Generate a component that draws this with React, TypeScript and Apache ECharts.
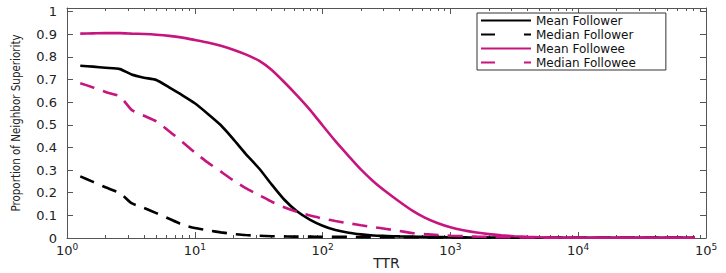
import React, { useEffect, useRef } from "react";
import * as echarts from "echarts";

// ---- data ----
const ttr = [
  1.27, 1.6, 2, 2.6, 3.2, 4, 5, 6.3, 8, 10, 12.6, 16, 20, 25, 32, 40, 50, 63, 80,
  100, 126, 160, 200, 250, 316, 400, 500, 630, 800, 1000, 1260, 1600, 2000, 2500,
  3160, 4000, 5000, 6300, 10000, 20000, 40000, 82000,
];

const meanFollower = [
  0.761, 0.757, 0.752, 0.746, 0.722, 0.708, 0.698, 0.665, 0.63, 0.595, 0.549,
  0.498, 0.437, 0.372, 0.306, 0.236, 0.17, 0.118, 0.08, 0.054, 0.035, 0.023,
  0.016, 0.011, 0.009, 0.007, 0.006, 0.005, 0.004, 0.003, 0.003, 0.002, 0.002,
  0.002, 0.001, 0.001, 0.001, 0.001, 0.001, 0.001, 0.001, 0.001,
];

const medianFollower = [
  0.272, 0.248, 0.224, 0.198, 0.154, 0.133, 0.11, 0.085, 0.059, 0.044, 0.034,
  0.025, 0.018, 0.013, 0.01, 0.008, 0.007, 0.006, 0.006, 0.005, 0.005, 0.005,
  0.004, 0.004, 0.004, 0.003, 0.003, 0.003, 0.002, 0.002, 0.002, 0.002, 0.001,
  0.001, 0.001, 0.001, 0.001, 0.001, 0.001, 0.001, 0.001, 0.001,
];

const meanFollowee = [
  0.903, 0.904, 0.905, 0.905, 0.903, 0.901, 0.898, 0.893, 0.885, 0.875, 0.864,
  0.849, 0.832, 0.811, 0.782, 0.742, 0.689, 0.63, 0.565, 0.497, 0.428, 0.362,
  0.302, 0.25, 0.203, 0.16, 0.122, 0.09, 0.065, 0.047, 0.034, 0.024, 0.017,
  0.012, 0.008, 0.005, 0.003, 0.002, 0.001, 0.001, 0.001, 0.001,
];

const medianFollowee = [
  0.684, 0.665, 0.645, 0.625, 0.566, 0.54, 0.515, 0.472, 0.424, 0.378, 0.334,
  0.293, 0.255, 0.22, 0.189, 0.16, 0.136, 0.116, 0.099, 0.086, 0.075, 0.065,
  0.056, 0.048, 0.04, 0.031, 0.022, 0.017, 0.013, 0.01, 0.008, 0.006, 0.005,
  0.004, 0.003, 0.002, 0.002, 0.001, 0.001, 0.001, 0.001, 0.001,
];

const seriesNames = ["Mean Follower", "Median Follower", "Mean Followee", "Median Followee"];
const yTicks = [0, 0.1, 0.2, 0.3, 0.4, 0.5, 0.6, 0.7, 0.8, 0.9, 1];
const decadeExponents = [0, 1, 2, 3, 4];
const minorMultipliers = [2, 3, 4, 5, 6, 7, 8, 9];

const BLACK = "#000000";
const PINK = "#C7157F";
const AXIS = "#555555";
const TEXT = "#222222";
const FONT = "'DejaVu Sans', sans-serif";

// positions (in log10 units) of the minor ticks of the log axis
const minorLogTicks: number[] = [];
decadeExponents.forEach((d) =>
  minorMultipliers.forEach((m) => minorLogTicks.push(d + Math.log10(m)))
);

function pairs(values: number[]) {
  return ttr.map((x, i) => [x, values[i]]);
}

export default function App() {
  const ref = useRef<HTMLDivElement>(null);

  useEffect(() => {
    if (!ref.current) return;
    const chart = echarts.init(ref.current, undefined, { renderer: "svg" });

    const logAxisCommon = {
      type: "log" as const,
      logBase: 10,
      min: 1,
      max: 100000,
      splitNumber: 5,
      splitLine: { show: false },
      axisLine: { show: true, onZero: false, lineStyle: { color: AXIS, width: 1 } },
      axisTick: { show: true, inside: true, length: 6, lineStyle: { color: AXIS } },
    };
    const minorAxisCommon = {
      type: "value" as const,
      min: 0,
      max: 5,
      splitLine: { show: false },
      axisLine: { show: false, onZero: false },
      axisLabel: { show: false },
      axisTick: {
        show: true,
        inside: true,
        length: 3,
        customValues: minorLogTicks,
        lineStyle: { color: AXIS },
      },
    };
    const yCommon = {
      type: "value" as const,
      min: 0,
      max: 1.016,
      splitLine: { show: false },
      axisLine: { show: true, onZero: false, lineStyle: { color: AXIS, width: 1 } },
      axisTick: {
        show: true,
        inside: true,
        length: 6,
        customValues: yTicks,
        lineStyle: { color: AXIS },
      },
    };

    const lineSeries = (
      name: string,
      values: number[],
      color: string,
      dashed: boolean
    ) => ({
      name,
      type: "line" as const,
      xAxisIndex: 0,
      yAxisIndex: 0,
      data: pairs(values),
      symbol: "none",
      smooth: 0.2,
      lineStyle: { color, width: 2.6, type: dashed ? [15, 9] : "solid" },
      itemStyle: { color },
    });

    chart.setOption({
      animation: false,
      backgroundColor: "#ffffff",
      grid: {
        left: 67,
        right: 20,
        top: 8,
        bottom: 35,
        containLabel: false,
        outerBoundsMode: "none",
      },
      xAxis: [
        {
          ...logAxisCommon,
          position: "bottom",
          name: "TTR",
          nameLocation: "middle",
          nameGap: 18,
          nameMoveOverlap: false,
          nameTextStyle: { fontFamily: FONT, fontSize: 14, color: TEXT },
          axisLabel: {
            show: true,
            margin: 4,
            fontFamily: FONT,
            fontSize: 13,
            color: TEXT,
            formatter: (v: number) => `10{s|${Math.round(Math.log10(v))}}`,
            rich: {
              s: { fontFamily: FONT, fontSize: 9, color: TEXT, padding: [0, 0, 8, 0] },
            },
          },
        },
        { ...minorAxisCommon, position: "bottom" },
        { ...logAxisCommon, position: "top", axisLabel: { show: false } },
        { ...minorAxisCommon, position: "top" },
      ],
      yAxis: [
        {
          ...yCommon,
          position: "left",
          name: "Proportion of Neighbor Superiority",
          nameLocation: "middle",
          nameGap: 45,
          nameMoveOverlap: false,
          nameTextStyle: {
            fontFamily: "'Liberation Sans Narrow', 'DejaVu Sans Condensed', sans-serif",
            fontSize: 11.5,
            color: TEXT,
          },
          axisLabel: {
            show: true,
            margin: 10,
            fontFamily: FONT,
            fontSize: 13,
            color: TEXT,
            customValues: yTicks,
            formatter: (v: number) =>
              v === 0 ? "0" : v === 1 ? "1" : (Math.round(v * 10) / 10).toFixed(1),
          },
        },
        { ...yCommon, position: "right", axisLabel: { show: false } },
      ],
      legend: {
        orient: "vertical",
        left: 477,
        top: 13,
        itemWidth: 50,
        itemHeight: 13,
        itemGap: 1,
        padding: [1, 30, 1, 3],
        borderColor: "#333333",
        borderWidth: 1,
        backgroundColor: "#ffffff",
        itemStyle: { opacity: 0, borderWidth: 0 },
        textStyle: { fontFamily: FONT, fontSize: 12, color: "#111111", lineHeight: 13 },
        data: [
          { name: seriesNames[0] },
          { name: seriesNames[1], lineStyle: { type: [14, 29] } },
          { name: seriesNames[2] },
          { name: seriesNames[3], lineStyle: { type: [14, 29] } },
        ],
      },
      series: [
        lineSeries(seriesNames[0], meanFollower, BLACK, false),
        lineSeries(seriesNames[1], medianFollower, BLACK, true),
        lineSeries(seriesNames[2], meanFollowee, PINK, false),
        lineSeries(seriesNames[3], medianFollowee, PINK, true),
      ],
    });

    return () => chart.dispose();
  }, []);

  return (
    <div
      ref={ref}
      style={{ position: "fixed", left: 0, top: 0, width: 726, height: 273 }}
    />
  );
}
